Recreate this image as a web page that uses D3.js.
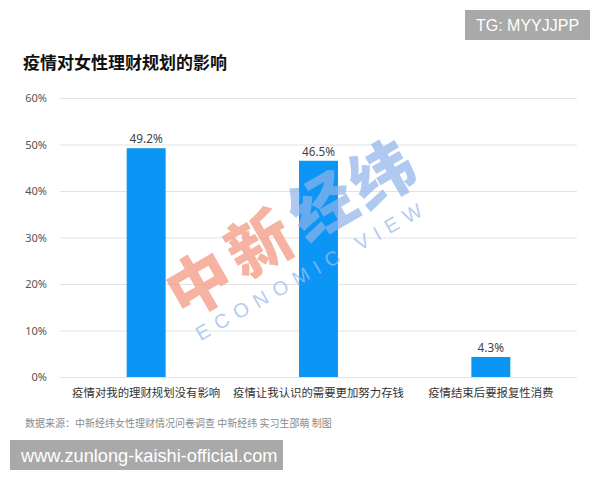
<!DOCTYPE html>
<html><head><meta charset="utf-8">
<script src="https://cdn.jsdelivr.net/npm/d3@7"></script>
<style>
html,body{margin:0;padding:0;background:#fff;}
svg{display:block;font-family:"Noto Sans CJK SC","Noto Sans",sans-serif;}
</style></head>
<body>
<svg id="c" width="600" height="480"></svg>
<script>
const title = "疫情对女性理财规划的影响";
const categories = ["疫情对我的理财规划没有影响", "疫情让我认识的需要更加努力存钱", "疫情结束后要报复性消费"];
const values = [49.2, 46.5, 4.3];
const valueLabels = ["49.2%", "46.5%", "4.3%"];
const yTicks = [0, 10, 20, 30, 40, 50, 60];
const source = "数据来源：中新经纬女性理财情况问卷调查 中新经纬 实习生邵萌 制图";
const tgText = "TG: MYYJJPP";
const siteText = "www.zunlong-kaishi-official.com";

const svg = d3.select("#c");
const mLeft = 60, mRight = 577, mTop = 98, mBottom = 377;

const x = d3.scaleBand().domain(categories).range([mLeft, mRight]).paddingInner(0.774).paddingOuter(0.387);
const y = d3.scaleLinear().domain([0, 60]).range([mBottom, mTop]);

// title
svg.append("text").attr("x", 23).attr("y", 69).attr("font-size", 17).attr("font-weight", "bold")
  .attr("fill", "#111").text(title);

// grid + y axis
const yAxis = d3.axisLeft(y).tickValues(yTicks).tickFormat(d => d + "%").tickSize(-(mRight - mLeft)).tickPadding(13);
const gy = svg.append("g").attr("transform", `translate(${mLeft},0)`).call(yAxis);
gy.select(".domain").remove();
gy.selectAll(".tick line").attr("stroke", "#e3e3e3").attr("stroke-width", 1);
gy.selectAll(".tick text").attr("font-size", 11).attr("fill", "#555").attr("font-family", "'Noto Sans','Liberation Sans',sans-serif");

// bars
svg.append("g").selectAll("rect").data(values).join("rect")
  .attr("x", (d, i) => x(categories[i]))
  .attr("y", d => y(d))
  .attr("width", x.bandwidth())
  .attr("height", d => y(0) - y(d))
  .attr("fill", "#0b96f6");

// value labels
svg.append("g").selectAll("text").data(values).join("text")
  .attr("x", (d, i) => x(categories[i]) + x.bandwidth() / 2)
  .attr("y", d => y(d) - 5)
  .attr("text-anchor", "middle").attr("font-size", 11.8).attr("fill", "#444")
  .attr("font-family", "'Noto Sans','Liberation Sans',sans-serif")
  .text((d, i) => valueLabels[i]);

// x axis labels
const xAxis = d3.axisBottom(x).tickSize(0).tickPadding(12);
const gx = svg.append("g").attr("transform", `translate(0,${mBottom})`).call(xAxis);
gx.select(".domain").remove();
gx.selectAll(".tick text").attr("font-size", 11.4).attr("fill", "#333").attr("font-family", "'Noto Sans CJK SC',sans-serif");

// watermark
const wm = svg.append("g").attr("pointer-events", "none");
const wmChars = [["中", 197, 280, "#f3937c"], ["新", 257, 240, "#f3937c"], ["经", 320, 202, "#8fb3ea"], ["纬", 380, 170, "#8fb3ea"]];
wmChars.forEach(c => {
  wm.append("text").attr("transform", `translate(${c[1]},${c[2]}) rotate(-30)`)
    .attr("text-anchor", "middle").attr("dominant-baseline", "central")
    .attr("font-size", 64).attr("font-weight", 900).attr("fill", c[3]).attr("opacity", 0.7)
    .text(c[0]);
});
wm.append("text").attr("transform", "translate(312,270) rotate(-29.5)")
  .attr("text-anchor", "middle").attr("dominant-baseline", "central")
  .attr("font-size", 20).attr("letter-spacing", 7.5).attr("fill", "#9dbcec").attr("opacity", 0.75)
  .attr("font-family", "'Liberation Sans',sans-serif")
  .text("ECONOMIC VIEW");

// source
svg.append("text").attr("x", 25).attr("y", 427).attr("font-size", 10).attr("fill", "#8a8a8a").text(source);

// TG box
svg.append("rect").attr("x", 465).attr("y", 10).attr("width", 125).attr("height", 30).attr("fill", "#a9a9a9");
svg.append("text").attr("x", 527.5).attr("y", 31).attr("text-anchor", "middle").attr("font-size", 16)
  .attr("fill", "#fff").attr("font-family", "'Liberation Sans',sans-serif").text(tgText);

// site box
svg.append("rect").attr("x", 10).attr("y", 440).attr("width", 273).attr("height", 30).attr("fill", "#a9a9a9");
svg.append("text").attr("x", 21).attr("y", 462).attr("font-size", 18.2).attr("fill", "#fff")
  .attr("font-family", "'Liberation Sans',sans-serif").text(siteText);
</script>
</body></html>
